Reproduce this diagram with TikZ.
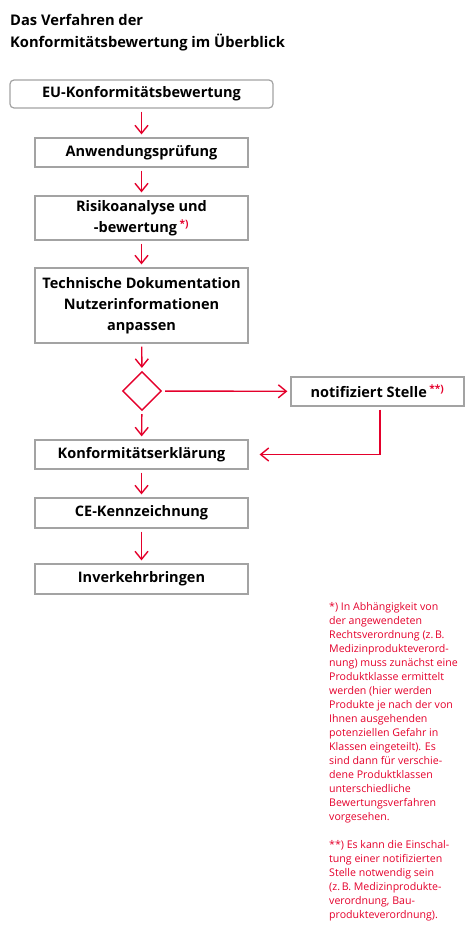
\documentclass[tikz,border=0pt]{standalone}
\usepackage{fontspec}
\setmainfont{Open Sans}
\usetikzlibrary{arrows.meta,shapes.geometric}
\definecolor{abbred}{HTML}{E4002B}
\definecolor{boxgray}{HTML}{A3A3A3}
\newcommand\fnmark[1]{\textcolor{abbred}{\textsuperscript{#1}}}

\begin{document}
\begin{tikzpicture}[x=1pt,y=-1pt,
  box/.style={draw=boxgray, line width=1.2pt, minimum width=213pt, minimum height=29pt, align=center, inner sep=0pt, font=\bfseries\fontsize{14.5}{21}\selectfont},
  titletext/.style={anchor=base west, inner sep=0pt, font=\bfseries\fontsize{14.7}{22}\selectfont},
  arrow/.style={-{Straight Barb[length=8pt,width=13pt]}, abbred, line width=1.4pt, shorten <=3pt, shorten >=3pt}
]
  \useasboundingbox (0,0) rectangle (471,929);

  % title
  \node[titletext] (title1) at (10,25) {Das Verfahren der};
  \node[titletext] (title2) at (10,47) {Konformitätsbewertung im Überblick};

  % flow
  \node[box, rounded corners=4pt, minimum width=263pt, minimum height=28pt] (eu) at (141.5,94) {EU-Konformitätsbewertung};
  \node[box] (anw) at (141.5,152.5) {Anwendungsprüfung};
  \node[box, minimum height=44pt] (risk) at (141.5,218) {Risikoanalyse und\\-bewertung\,\fnmark{*)}};
  \node[box, minimum height=75pt] (doku) at (141.5,305.5) {Technische Dokumentation\\Nutzerinformationen\\anpassen};
  \node[diamond, draw=abbred, line width=1.4pt, minimum width=39pt, minimum height=39pt, inner sep=0pt, aspect=1] (dec) at (142,391) {};
  \node[box, minimum width=173pt] (nb) at (377.5,391.5) {notifiziert Stelle\,\fnmark{**)}};
  \node[box] (konf) at (141.5,454.5) {Konformitätserklärung};
  \node[box, minimum height=30pt] (ce) at (141.5,513) {CE-Kennzeichnung};
  \node[box, minimum height=30pt] (inv) at (141.5,579) {Inverkehrbringen};

  \draw[arrow] (eu) -- (anw);
  \draw[arrow] (anw) -- (risk);
  \draw[arrow] (risk) -- (doku);
  \draw[arrow] (doku) -- (dec);
  \draw[arrow] (dec) -- (nb);
  \draw[arrow] (dec) -- (konf);
  \draw[arrow, shorten >=11pt] ([xshift=2.5pt]nb.south) |- (konf.east);
  \draw[arrow] (konf) -- (ce);
  \draw[arrow] (ce) -- (inv);

  % footnotes
  \node[anchor=north west, align=left, inner sep=0pt, text=abbred, font=\fontsize{10.6}{14}\selectfont] (notes) at (329,602) {%
    *) In Abhängigkeit von\\
    der angewendeten\\
    Rechtsverordnung (z.\,B.\\
    Medizinprodukteverord-\\
    nung) muss zunächst eine\\
    Produktklasse ermittelt\\
    werden (hier werden\\
    Produkte je nach der von\\
    Ihnen ausgehenden\\
    potenziellen Gefahr in\\
    Klassen eingeteilt). Es\\
    sind dann für verschie-\\
    dene Produktklassen\\
    unterschiedliche\\
    Bewertungsverfahren\\
    vorgesehen.\\[14pt]
    {}**) Es kann die Einschal-\\
    tung einer notifizierten\\
    Stelle notwendig sein\\
    (z.\,B. Medizinprodukte-\\
    verordnung, Bau-\\
    produkteverordnung).};
\end{tikzpicture}
\end{document}
